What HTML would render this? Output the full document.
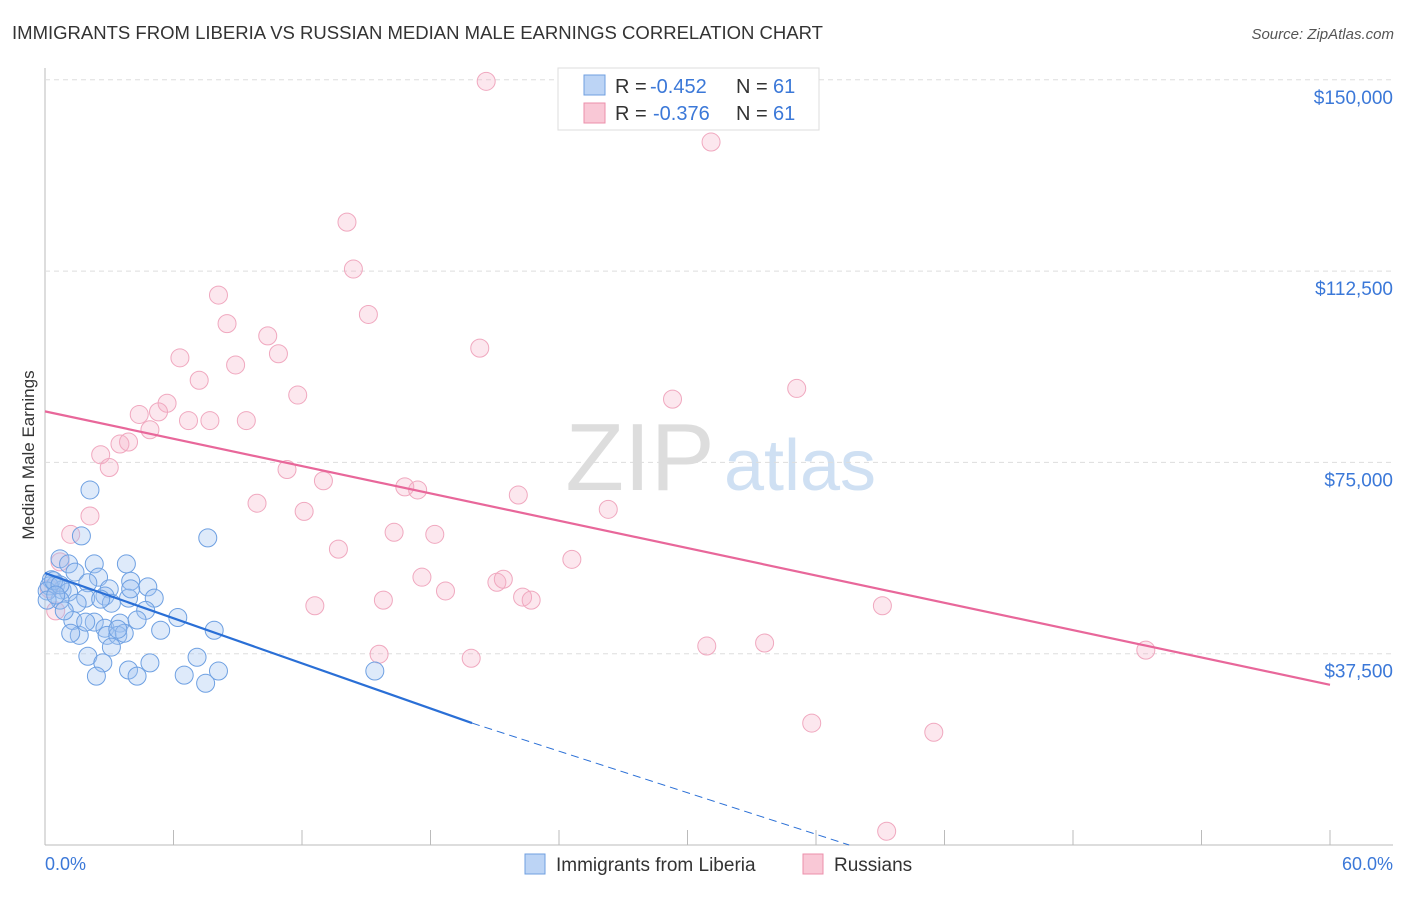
<!DOCTYPE html>
<html><head><meta charset="utf-8"><style>
body{margin:0;background:#fff;font-family:"Liberation Sans",sans-serif;}
svg text{font-family:"Liberation Sans",sans-serif;}
</style></head><body>
<svg id="chart" width="1406" height="892" xmlns="http://www.w3.org/2000/svg">
<text x="12" y="39" font-size="18" fill="#333" textLength="811" lengthAdjust="spacingAndGlyphs">IMMIGRANTS FROM LIBERIA VS RUSSIAN MEDIAN MALE EARNINGS CORRELATION CHART</text>
<text x="1394" y="39" font-size="15" fill="#555" font-style="italic" text-anchor="end">Source: ZipAtlas.com</text>
<text x="34" y="455" font-size="17" fill="#333" text-anchor="middle" transform="rotate(-90 34 455)">Median Male Earnings</text>
<text x="640" y="490" font-size="96" fill="#ddd" font-family="Liberation Serif" text-anchor="middle">ZIP</text>
<text x="800" y="490" font-size="72" fill="#cfe0f3" text-anchor="middle">atlas</text>
<g id="grid"></g><g id="pts"></g><g id="lines"></g>
<g>
<rect x="558" y="68" width="261" height="62" fill="#fff" stroke="#ddd"/>
<rect x="584" y="75" width="21" height="20" fill="#bcd4f5" stroke="#6f9fe0"/>
<text x="615" y="93" font-size="20" fill="#333">R =</text>
<text x="650" y="93" font-size="20" fill="#3b78d8">-0.452</text>
<text x="736" y="93" font-size="20" fill="#333">N =</text>
<text x="773" y="93" font-size="20" fill="#3b78d8">61</text>
<rect x="584" y="103" width="21" height="20" fill="#f9c8d6" stroke="#ec8fab"/>
<text x="615" y="120" font-size="20" fill="#333">R =</text>
<text x="653" y="120" font-size="20" fill="#3b78d8">-0.376</text>
<text x="736" y="120" font-size="20" fill="#333">N =</text>
<text x="773" y="120" font-size="20" fill="#3b78d8">61</text>
</g>
<g>
<rect x="525" y="854" width="20" height="20" fill="#bcd4f5" stroke="#6f9fe0"/>
<text x="556" y="871" font-size="19" fill="#333">Immigrants from Liberia</text>
<rect x="803" y="854" width="20" height="20" fill="#f9c8d6" stroke="#ec8fab"/>
<text x="834" y="871" font-size="19" fill="#333">Russians</text>
</g>
<text x="45" y="870" font-size="18" fill="#3b78d8">0.0%</text>
<text x="1393" y="870" font-size="18" fill="#3b78d8" text-anchor="end">60.0%</text>
</svg>
<script>
const yTicks=[150000,112500,75000,37500];
const yTickLabels=["$150,000","$112,500","$75,000","$37,500"];
const blueX=[2.1,1.7,7.6,0.7,1.1,2.3,3.8,1.4,2.5,4.0,4.8,0.3,0.5,0.8,1.1,2.0,3.0,2.8,1.9,1.5,3.9,5.1,3.1,4.7,6.2,0.7,1.3,2.3,2.8,3.5,4.3,5.4,7.9,1.6,2.9,3.4,3.7,1.2,3.1,2.0,2.7,3.9,4.9,7.1,4.3,2.4,6.5,7.5,8.1,15.4,0.2,0.1,0.4,0.7,0.9,2.6,3.4,1.9,0.1,0.5,4.0];
const blueY=[69600,60600,60200,56100,55100,55100,55100,53500,52500,51700,50600,52000,51000,50000,49600,51400,50200,48800,48400,47400,48400,48400,47400,46000,44600,48000,44000,43700,42500,43500,44100,42100,42100,41100,41100,41100,41500,41500,38800,37000,35700,34300,35700,36800,33100,33100,33300,31700,34100,34100,50800,49800,51800,51000,45900,48200,42300,43700,48000,49000,50200];
const pinkX=[20.6,31.1,14.1,14.4,8.1,15.1,8.5,10.4,20.3,6.3,10.9,8.9,7.2,35.1,11.8,5.7,29.3,4.4,5.3,6.7,7.7,9.4,4.9,3.5,3.9,2.6,3.0,11.3,13.0,16.8,17.4,22.1,9.9,26.3,12.1,2.1,1.2,16.3,18.2,13.7,24.6,0.7,17.6,21.1,21.4,18.7,22.3,22.7,15.8,12.6,39.1,0.2,0.5,33.6,30.9,15.6,19.9,51.4,35.8,41.5,39.3];
const pinkY=[149700,137800,122100,112900,107800,104000,102200,99800,97400,95500,96300,94100,91100,89500,88200,86600,87400,84400,84900,83200,83200,83200,81400,78600,79000,76500,74000,73600,71400,70200,69600,68600,67000,65800,65400,64500,60900,61300,60900,58000,56000,55500,52500,51500,52100,49800,48600,48000,48000,46900,46900,50200,45900,39600,39000,37400,36600,38200,23900,22100,2700];
const pinkTrend=[85000,31400];
const blueTrend=[53300,23900];
const W=document.getElementById('chart');
const ns='http://www.w3.org/2000/svg';
const X0=45,X1=1330,Y0=845,PPY=191.3/37500;
const xs=v=>X0+(v/60)*(X1-X0);
const ys=v=>Y0-v*PPY;
function mk(t,a,p){const e=document.createElementNS(ns,t);for(const k in a)e.setAttribute(k,a[k]);p.appendChild(e);return e;}
const g=document.getElementById('grid');
mk('line',{x1:45,y1:68,x2:45,y2:845,stroke:'#bbb'},g);
mk('line',{x1:45,y1:845,x2:1393,y2:845,stroke:'#bbb'},g);
for(let i=0;i<=10;i++){const l=mk('line',{x1:xs(i*6),y1:830,x2:xs(i*6),y2:845,stroke:'#bbb'},g);

}
yTicks.forEach((v,i)=>{const l=mk('line',{x1:45,y1:ys(v),x2:1393,y2:ys(v),stroke:'#ddd','stroke-dasharray':'5,4'},g);


const t=mk('text',{x:1393,y:ys(v)+24,'font-size':19,fill:'#3b78d8','text-anchor':'end'},g);t.textContent=yTickLabels[i];

});
const p=document.getElementById('pts');
pinkX.forEach((x,i)=>{const c=mk('circle',{cx:xs(x),cy:ys(pinkY[i]),r:9,fill:'rgba(246,175,198,0.3)',stroke:'#f0a8bf','stroke-width':1},p);

});
blueX.forEach((x,i)=>{const c=mk('circle',{cx:xs(x),cy:ys(blueY[i]),r:9,fill:'rgba(160,196,240,0.35)',stroke:'#6ea0e2','stroke-width':1},p);

});
const L=document.getElementById('lines');
const pl=mk('line',{x1:xs(0),y1:ys(pinkTrend[0]),x2:xs(60),y2:ys(pinkTrend[1]),stroke:'#e8679a','stroke-width':2.2},L);


const bxEnd=19.94,slope=(blueTrend[1]-blueTrend[0])/bxEnd,xz=-blueTrend[0]/slope;
const bl=mk('line',{x1:xs(0),y1:ys(blueTrend[0]),x2:xs(bxEnd),y2:ys(blueTrend[1]),stroke:'#2a6fd6','stroke-width':2.2},L);


const bd=mk('line',{x1:xs(bxEnd),y1:ys(blueTrend[1]),x2:xs(xz)+30,y2:ys(0),stroke:'#2a6fd6','stroke-width':1,'stroke-dasharray':'8,5'},L);


</script>
</body></html>
